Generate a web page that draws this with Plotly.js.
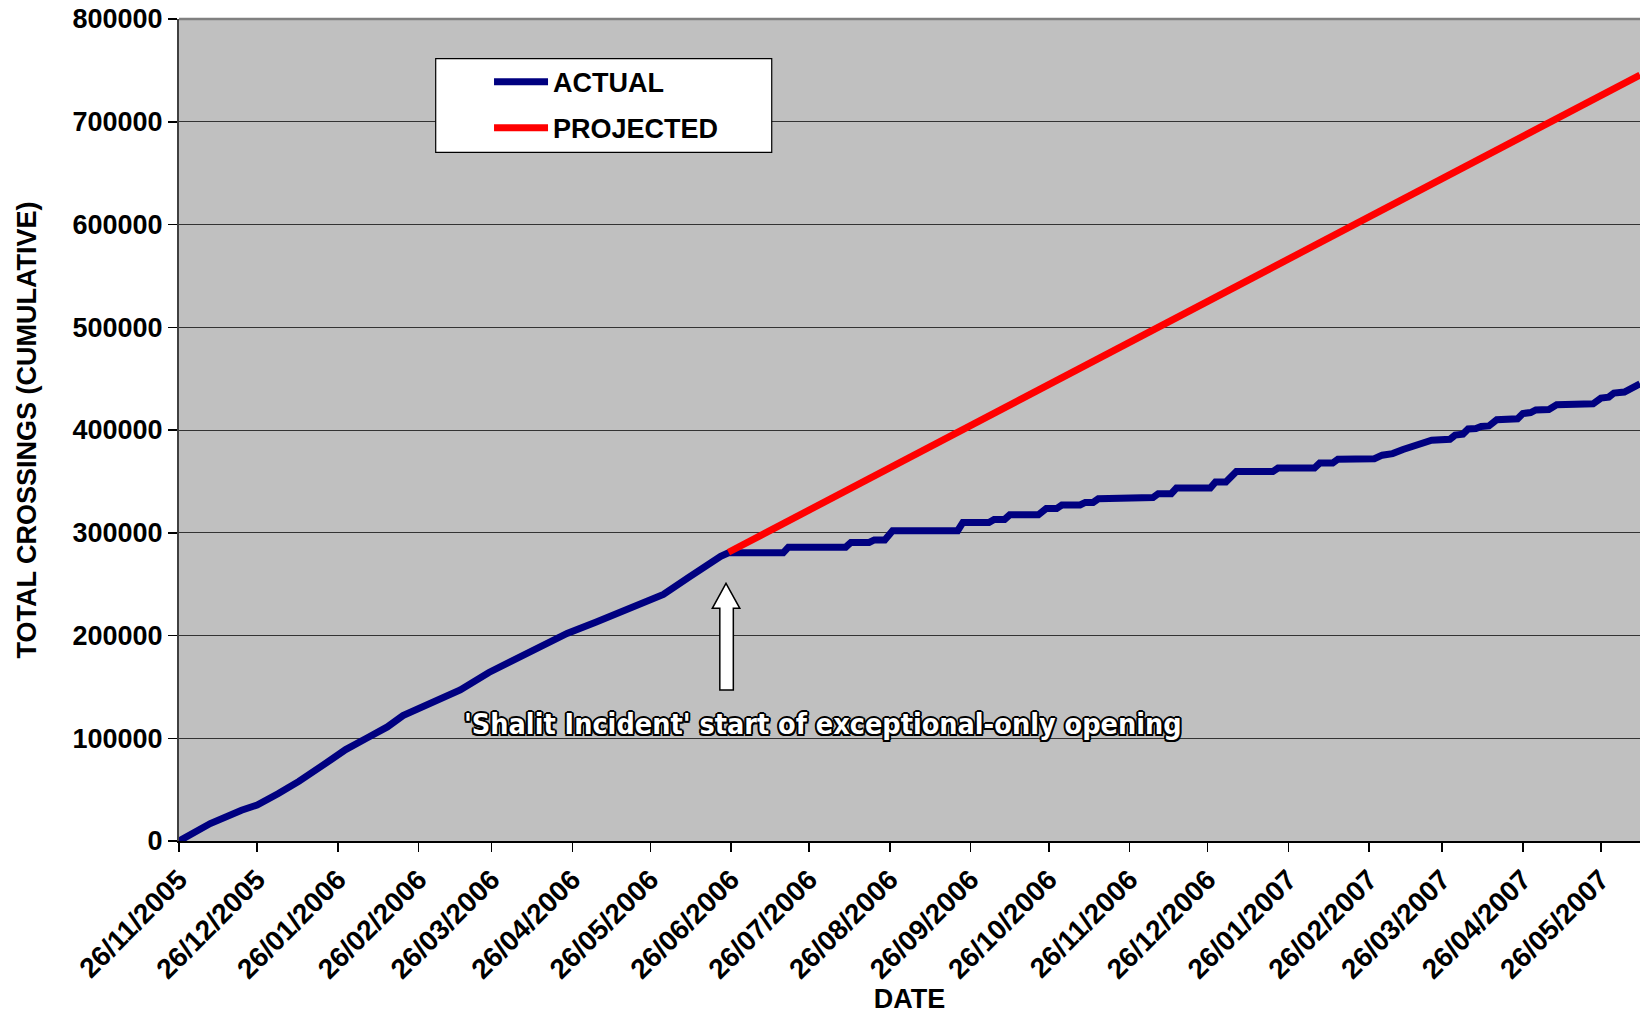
<!DOCTYPE html>
<html>
<head>
<meta charset="utf-8">
<script src="https://cdn.plot.ly/plotly-3.0.1.min.js"></script>
<style>html,body{margin:0;padding:0;background:#fff;}#chart{width:1640px;height:1014px;}</style>
</head>
<body>
<div id="chart"></div>
<script>
// ---- data ----
var actualDates = [
  '2005-11-26','2005-12-08','2005-12-20','2005-12-26','2006-01-03','2006-01-11','2006-01-21','2006-01-29',
  '2006-02-06','2006-02-14','2006-02-20','2006-02-28','2006-03-14','2006-03-25','2006-04-05','2006-04-13',
  '2006-04-24','2006-05-05','2006-05-13','2006-05-24','2006-05-31','2006-06-10','2006-06-18','2006-06-22',
  '2006-06-25','2006-07-16','2006-07-18','2006-08-09','2006-08-11','2006-08-18','2006-08-20','2006-08-24',
  '2006-08-27','2006-09-21','2006-09-23','2006-10-03','2006-10-05','2006-10-09','2006-10-11','2006-10-22',
  '2006-10-25','2006-10-29','2006-10-31','2006-11-07','2006-11-09','2006-11-12','2006-11-14','2006-11-27',
  '2006-11-28','2006-12-05','2006-12-07','2006-12-12','2006-12-14','2006-12-27','2006-12-29','2007-01-02',
  '2007-01-06','2007-01-20','2007-01-22','2007-02-05','2007-02-07','2007-02-12','2007-02-14','2007-02-28',
  '2007-03-03','2007-03-07','2007-03-11','2007-03-14','2007-03-18','2007-03-22','2007-03-29','2007-03-31',
  '2007-04-03','2007-04-05','2007-04-08','2007-04-10','2007-04-13','2007-04-16','2007-04-24','2007-04-26',
  '2007-04-29','2007-05-01','2007-05-06','2007-05-09','2007-05-23','2007-05-26','2007-05-29','2007-05-31',
  '2007-06-04','2007-06-07','2007-06-10'
];
var actualValues = [
  0,17000,30000,35000,46000,58000,75000,89000,
  100000,111000,122000,131000,147000,164000,178000,189000,
  202000,213000,221000,233000,240000,257000,271000,277000,
  280500,280500,286000,286000,290500,290500,293000,293000,
  302000,302000,310000,310000,313000,313000,317500,317500,
  323500,323500,327000,327000,329500,329500,333000,333000,
  334300,334300,338000,338000,343500,343500,349500,349500,
  359500,359500,363000,363000,367800,367800,371500,372000,
  375500,377000,381000,383000,386000,390000,391000,395000,
  396000,401000,401500,403500,404000,410000,411000,416000,
  417000,419500,420000,424500,425500,431000,432000,436000,
  437000,441000,445000
];
var projectedDates = ['2006-06-25','2007-06-10'];
var projectedValues = [281000, 745500];

var tickLabels = ['26/11/2005','26/12/2005','26/01/2006','26/02/2006','26/03/2006','26/04/2006',
  '26/05/2006','26/06/2006','26/07/2006','26/08/2006','26/09/2006','26/10/2006','26/11/2006',
  '26/12/2006','26/01/2007','26/02/2007','26/03/2007','26/04/2007','26/05/2007'];
var xRange = ['2005-11-26','2007-06-10'];
var yRange = [0, 800000];

var seriesNames = ['ACTUAL','PROJECTED'];
var annotationText = "'Shalit Incident' start of exceptional-only opening";
var axisTitles = {x: 'DATE', y: 'TOTAL CROSSINGS (CUMULATIVE)'};

// ---- chart ----
var tickVals = tickLabels.map(function (s) {
  var p = s.split('/');
  return p[2] + '-' + p[1] + '-' + p[0];
});

var FONT = 'Liberation Sans, Arial, sans-serif';
var boldFont = function (size) { return {family: FONT, size: size, color: '#000', weight: 'bold'}; };

var traces = [
  {x: actualDates, y: actualValues, name: seriesNames[0], type: 'scatter', mode: 'lines',
   line: {color: '#000080', width: 7}, legendgroup: 'a'},
  {x: projectedDates, y: projectedValues, name: seriesNames[1], type: 'scatter', mode: 'lines',
   line: {color: '#FF0000', width: 7}, legendgroup: 'b'}
];

var outline = '-1.5px -1.5px 0 #000, 1.5px -1.5px 0 #000, -1.5px 1.5px 0 #000, 1.5px 1.5px 0 #000, 0 2px 0 #000, 0 -2px 0 #000, 2px 0 0 #000, -2px 0 0 #000';

var layout = {
  width: 1640, height: 1014,
  margin: {l: 179, r: 0, t: 19, b: 173, pad: 0},
  paper_bgcolor: '#ffffff',
  plot_bgcolor: '#C0C0C0',
  showlegend: true,
  legend: {
    x: 0.2122, y: 0.953, xanchor: 'left', yanchor: 'top',
    bgcolor: 'rgba(0,0,0,0)', borderwidth: 0,
    font: boldFont(27), itemwidth: 54, tracegroupgap: 8, traceorder: 'grouped'
  },
  xaxis: {
    type: 'date', range: xRange, tickvals: tickVals, ticktext: tickLabels,
    tickangle: -45, tickfont: boldFont(28),
    ticks: 'outside', ticklen: 9, tickwidth: 1.5, tickcolor: '#000',
    showgrid: false, zeroline: false,
    showline: true, linecolor: '#000', linewidth: 2,
    title: {text: axisTitles.x, font: boldFont(27), standoff: 8},
    fixedrange: true
  },
  yaxis: {
    range: yRange, dtick: 100000, tick0: 0, tickformat: 'd',
    tickfont: boldFont(27),
    ticks: 'outside', ticklen: 9, tickwidth: 1.5, tickcolor: '#000',
    showgrid: true, gridcolor: '#333333', gridwidth: 1,
    zeroline: false, showline: true, linecolor: '#404040', linewidth: 2,
    title: {text: axisTitles.y, font: boldFont(27), standoff: 28},
    fixedrange: true
  },
  shapes: [
    {type: 'line', xref: 'paper', yref: 'paper', x0: 0, x1: 1, y0: 1, y1: 1,
     line: {color: '#808080', width: 2.5}},
    {type: 'rect', xref: 'paper', yref: 'paper', layer: 'above',
     x0: 0.1757, x1: 0.4057, y0: 0.8377, y1: 0.9519,
     fillcolor: '#ffffff', line: {color: '#000000', width: 1.2}},
    {type: 'path', xref: 'paper', yref: 'paper',
     path: 'M0.37441,0.31350 L0.38386,0.28309 L0.37941,0.28309 L0.37941,0.18370 L0.37017,0.18370 L0.37017,0.28309 L0.36503,0.28309 Z',
     fillcolor: '#ffffff', line: {color: '#000000', width: 1.5}}
  ],
  annotations: [
    {xref: 'paper', yref: 'paper', x: 0.4407, y: 0.1423, xanchor: 'center', yanchor: 'middle',
     text: annotationText, showarrow: false,
     font: {family: 'Liberation Sans Narrow, DejaVu Sans Condensed, Arial Narrow, sans-serif', size: 28.5, weight: 'bold', color: '#ffffff', shadow: outline}}
  ]
};

Plotly.newPlot('chart', traces, layout, {displayModeBar: false, staticPlot: true});
</script>
</body>
</html>
